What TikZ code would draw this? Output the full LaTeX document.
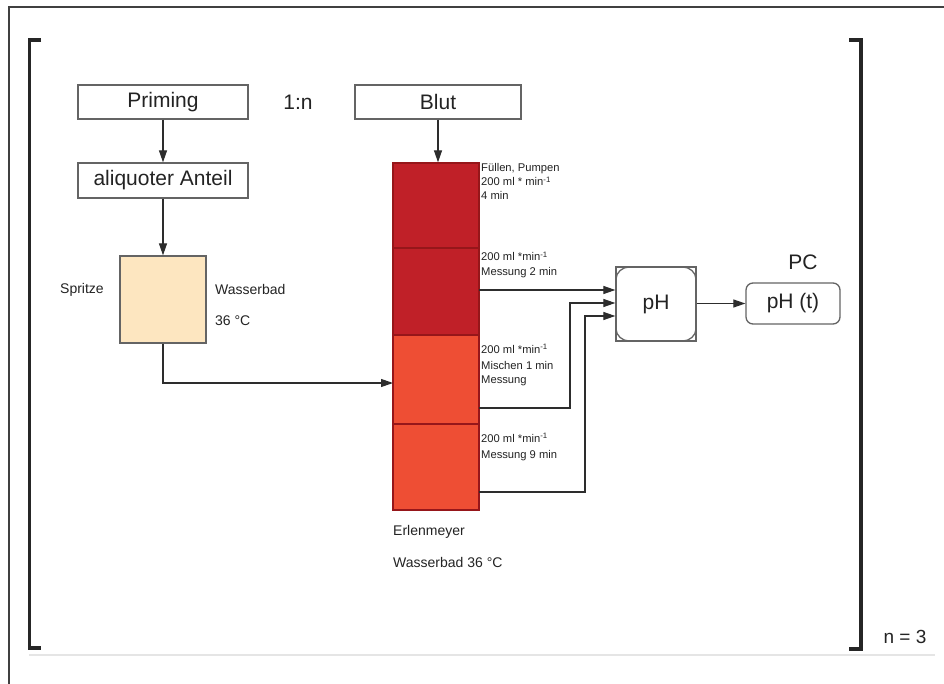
\documentclass[tikz,border=0pt]{standalone}
\usepackage{fontspec}
\setmainfont{Liberation Sans}
\usetikzlibrary{arrows.meta,calc}
\definecolor{darkred}{RGB}{192,32,40}
\definecolor{lightred}{RGB}{238,78,52}
\definecolor{redline}{RGB}{150,22,26}
\definecolor{syrfill}{RGB}{253,230,192}
\definecolor{boxgray}{RGB}{100,100,100}
\definecolor{linegray}{RGB}{45,45,45}
\definecolor{txt}{RGB}{35,35,35}
\tikzset{
  bigfont/.style={font=\fontsize{21}{24}\selectfont, text=txt},
  midfont/.style={font=\fontsize{14}{17}\selectfont, text=txt},
  smallfont/.style={font=\fontsize{11.2}{13}\selectfont, text=txt},
  box/.style={draw=boxgray, line width=1.3pt, inner sep=0pt, bigfont},
  seg/.style={draw=redline, line width=1.3pt, minimum width=86pt, inner sep=0pt},
  arr/.style={draw=linegray, line width=1.2pt, -{Triangle[length=12pt,width=8pt]}},
  lab/.style={anchor=base west, inner sep=0pt, smallfont},
  bracket/.style={draw=black!85, line width=3.5pt},
  corner/.style={draw=boxgray, line width=1.3pt},
}
\begin{document}
\begin{tikzpicture}[x=1pt,y=-1pt]
\useasboundingbox (0,0) rectangle (944,684);
\fill[white] (0,0) rectangle (944,684);
% outer frame
\draw[black!75, line width=1.3pt] (9,684) -- (9,7) -- (944,7);
% faint frame line
\draw[black!10, line width=1.5pt] (29,655) -- (935,655);
% brackets
\draw[bracket] (41,40) -- (29.5,40) -- (29.5,648) -- (41,648);
\draw[bracket] (849,40) -- (861,40) -- (861,649) -- (849,649);
\node[bigfont, font=\fontsize{19}{22}\selectfont] (n3) at (905,637) {n = 3};

% top boxes
\node[box, minimum width=170pt, minimum height=34pt] (prim) at (163,102) {Priming};
\node[bigfont] (ratio) at (298,102) {1:n};
\node[box, minimum width=166pt, minimum height=34pt] (blut) at (438,102) {Blut};
\node[box, minimum width=170pt, minimum height=35pt] (aliq) at (163,180.5) {aliquoter Anteil};

% syringe
\node[draw=boxgray, line width=1.3pt, fill=syrfill, minimum width=86pt, minimum height=87pt, inner sep=0pt] (syr) at (163,299.5) {};
\node[midfont] (spritze) at (82,290) {Spritze};
\node[midfont, anchor=west, inner sep=0pt] (wb1) at (215,289) {Wasserbad};
\node[midfont, anchor=west, inner sep=0pt] (wb2) at (215,321) {36 °C};

% column
\node[seg, fill=darkred, minimum height=85pt] (c1) at (436,205.5) {};
\node[seg, fill=darkred, minimum height=87pt] (c2) at (436,291.5) {};
\node[seg, fill=lightred, minimum height=89pt] (c3) at (436,379.5) {};
\node[seg, fill=lightred, minimum height=86pt] (c4) at (436,467) {};

% column labels
\node[lab] (l11) at (481,172) {Füllen, Pumpen};
\node[lab] (l12) at (481,186) {200 ml * min\textsuperscript{-1}};
\node[lab] (l13) at (481,200) {4 min};
\node[lab] (l21) at (481,261) {200 ml *min\textsuperscript{-1}};
\node[lab] (l22) at (481,276) {Messung 2 min};
\node[lab] (l31) at (481,353) {200 ml *min\textsuperscript{-1}};
\node[lab] (l32) at (481,369) {Mischen 1 min};
\node[lab] (l33) at (481,383) {Messung};
\node[lab] (l41) at (481,442) {200 ml *min\textsuperscript{-1}};
\node[lab] (l42) at (481,458) {Messung 9 min};

\node[midfont, anchor=west, inner sep=0pt] (erl) at (393,532) {Erlenmeyer};
\node[midfont, anchor=west, inner sep=0pt] (wb3) at (393,562) {Wasserbad 36 °C};

% pH box
\node[box, minimum width=80pt, minimum height=74pt] (ph) at (656,304) {pH};
\draw[corner] (616,279) .. controls (616,272.5) and (622.5,267) .. (629,267);
\draw[corner] (683,267) .. controls (689.5,267) and (696,272.5) .. (696,279);
\draw[corner] (696,329) .. controls (696,335.5) and (689.5,341) .. (683,341);
\draw[corner] (629,341) .. controls (622.5,341) and (616,335.5) .. (616,329);

% PC
\node[box, rounded corners=7pt, minimum width=94pt, minimum height=41pt] (pht) at (793,303.5) {pH (t)};
\node[bigfont] (pc) at (803,262) {PC};

% coordinates
\coordinate (cin) at (393,383);
\coordinate (o2) at (479,290);
\coordinate (o3) at (479,408);
\coordinate (o4) at (479,492);
\coordinate (p1) at ($(ph.west)+(0,-14)$);
\coordinate (p2) at ($(ph.west)+(0,-1)$);
\coordinate (p3) at ($(ph.west)+(0,12)$);

% connectors
\draw[arr] (prim.south) -- (aliq.north);
\draw[arr] (blut.south) -- (blut.south |- c1.north);
\draw[arr] (aliq.south) -- (syr.north);
\draw[arr] (syr.south) |- (cin);
\draw[arr] (o2) -- (p1);
\draw[arr] (o3) -- ++(91,0) |- (p2);
\draw[arr] (o4) -- ++(106,0) |- (p3);
\draw[arr] (ph.east |- pht.west) -- (pht.west);
\end{tikzpicture}
\end{document}
